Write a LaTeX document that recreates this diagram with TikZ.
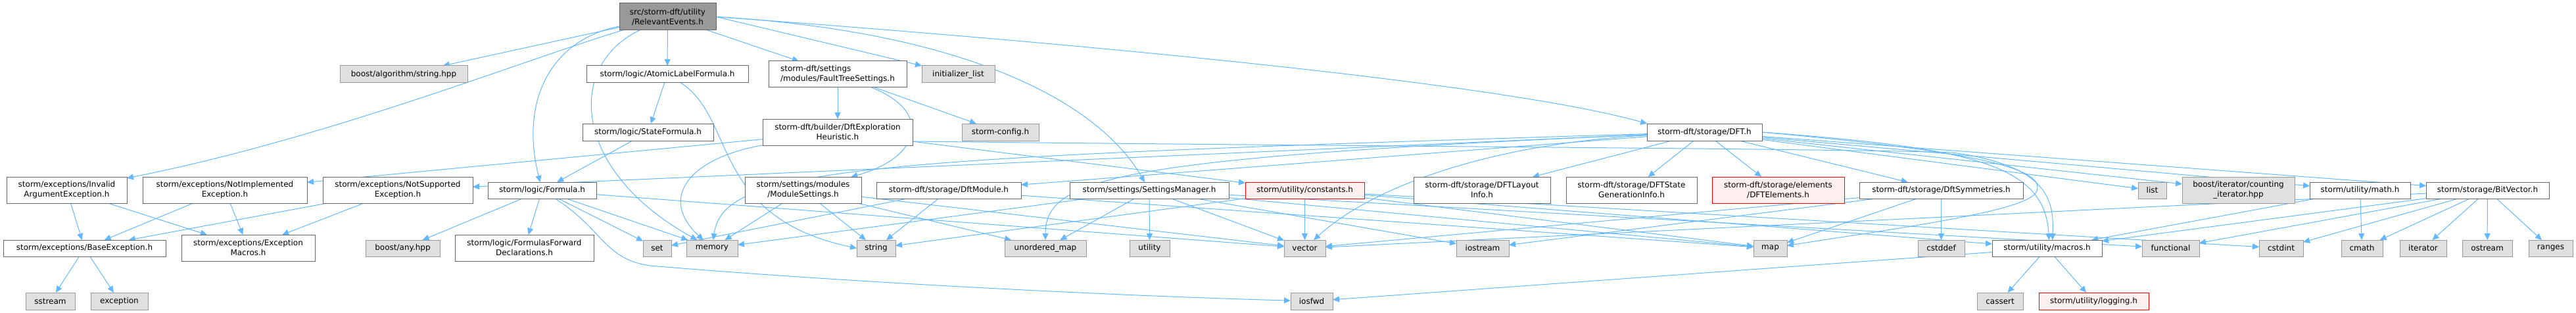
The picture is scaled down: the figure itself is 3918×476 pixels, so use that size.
\documentclass[tikz,border=0pt]{standalone}
\usepackage{fontspec}
\setmainfont{DejaVu Sans}
\usetikzlibrary{arrows.meta}
\pgfdeclarelayer{background}
\pgfsetlayers{background,main}
\definecolor{edgec}{HTML}{63B8FF}
\definecolor{nodeborder}{HTML}{666666}
\definecolor{extfill}{HTML}{E0E0E0}
\definecolor{extborder}{HTML}{999999}
\definecolor{rootfill}{HTML}{999999}
\definecolor{redfill}{HTML}{FFF0F0}
\begin{document}
\begin{tikzpicture}[x=1pt,y=-1pt,
  every node/.style={font=\fontsize{12}{15}\selectfont, align=center, inner sep=0pt, outer sep=0pt},
  file/.style={draw=nodeborder, fill=white, line width=1pt},
  ext/.style={draw=extborder, fill=extfill, line width=1pt},
  redfile/.style={draw=red, fill=redfill, line width=1pt},
  rootfile/.style={draw=nodeborder, fill=rootfill, line width=1pt},
  dep/.style={draw=edgec, line width=1pt, -{Triangle[length=10pt,width=9pt]}},
]
\useasboundingbox (0,0) rectangle (3918,476);
% row 1
\node[rootfile, minimum width=147pt, minimum height=41pt] (root) at (1015.5,25.5) {src/storm-dft/utility\\/RelevantEvents.h};
% row 2
\node[ext, minimum width=194pt, minimum height=26pt] (strhpp) at (614,113) {boost/algorithm/string.hpp};
\node[file, minimum width=246pt, minimum height=26pt] (atomic) at (1015,113) {storm/logic/AtomicLabelFormula.h};
\node[file, minimum width=210pt, minimum height=40pt, align=left] (fts) at (1274,113) {storm-dft/settings\\/modules/FaultTreeSettings.h};
\node[ext, minimum width=111pt, minimum height=26pt] (initlist) at (1457.5,113) {initializer\_list};
% row 3
\node[file, minimum width=199pt, minimum height=26pt] (stateformula) at (985.5,201) {storm/logic/StateFormula.h};
\node[file, minimum width=228pt, minimum height=40pt] (dfteh) at (1274,201) {storm-dft/builder/DftExploration\\Heuristic.h};
\node[ext, minimum width=117pt, minimum height=26pt] (config) at (1521.5,201) {storm-config.h};
\node[file, minimum width=175pt, minimum height=26pt] (dft) at (2592.5,201) {storm-dft/storage/DFT.h};
% row 4
\node[file, minimum width=183pt, minimum height=40pt] (invarg) at (101.5,289) {storm/exceptions/Invalid\\ArgumentException.h};
\node[file, minimum width=250pt, minimum height=40pt] (notimpl) at (342,289) {storm/exceptions/NotImplemented\\Exception.h};
\node[file, minimum width=228pt, minimum height=40pt] (notsupp) at (605,289) {storm/exceptions/NotSupported\\Exception.h};
\node[file, minimum width=165pt, minimum height=25pt] (formula) at (824.5,289.5) {storm/logic/Formula.h};
\node[file, minimum width=177pt, minimum height=40pt] (modset) at (1221.5,289) {storm/settings/modules\\/ModuleSettings.h};
\node[file, minimum width=220pt, minimum height=25pt] (dftmodule) at (1443,289.5) {storm-dft/storage/DftModule.h};
\node[file, minimum width=242pt, minimum height=25pt] (smgr) at (1748,289.5) {storm/settings/SettingsManager.h};
\node[redfile, minimum width=181pt, minimum height=25pt] (constants) at (1984.5,289.5) {storm/utility/constants.h};
\node[file, minimum width=208pt, minimum height=40pt] (layout) at (2254,289) {storm-dft/storage/DFTLayout\\Info.h};
\node[file, minimum width=199pt, minimum height=40pt] (stategen) at (2481.5,289) {storm-dft/storage/DFTState\\GenerationInfo.h};
\node[redfile, minimum width=201pt, minimum height=40pt] (elements) at (2704.5,289) {storm-dft/storage/elements\\/DFTElements.h};
\node[file, minimum width=249pt, minimum height=25pt] (dftsym) at (2952.5,289.5) {storm-dft/storage/DftSymmetries.h};
\node[ext, minimum width=43pt, minimum height=25pt] (list) at (3273.5,289.5) {list};
\node[ext, minimum width=171pt, minimum height=40pt] (counting) at (3404.5,289) {boost/iterator/counting\\\_iterator.hpp};
\node[file, minimum width=153pt, minimum height=25pt] (math) at (3589.5,289.5) {storm/utility/math.h};
\node[file, minimum width=187pt, minimum height=25pt] (bitvec) at (3783.5,289.5) {storm/storage/BitVector.h};
% row 5
\node[file, minimum width=247pt, minimum height=25pt] (base) at (128.5,377.5) {storm/exceptions/BaseException.h};
\node[file, minimum width=203pt, minimum height=40pt] (excmacros) at (377.5,377) {storm/exceptions/Exception\\Macros.h};
\node[ext, minimum width=113pt, minimum height=25pt] (anyhpp) at (612.5,377.5) {boost/any.hpp};
\node[file, minimum width=211pt, minimum height=40pt] (ffd) at (797.5,377) {storm/logic/FormulasForward\\Declarations.h};
\node[ext, minimum width=43pt, minimum height=25pt] (set) at (999.5,377.5) {set};
\node[ext, minimum width=78pt, minimum height=25pt] (memory) at (1083,377.5) {memory};
\node[ext, minimum width=59pt, minimum height=25pt] (string) at (1332.5,377.5) {string};
\node[ext, minimum width=124pt, minimum height=25pt] (umap) at (1590,377.5) {unordered\_map};
\node[ext, minimum width=61pt, minimum height=25pt] (utility) at (1748.5,377.5) {utility};
\node[ext, minimum width=63pt, minimum height=25pt] (vector) at (1984.5,377.5) {vector};
\node[ext, minimum width=80pt, minimum height=25pt] (iostream) at (2255,377.5) {iostream};
\node[ext, minimum width=51pt, minimum height=25pt] (map) at (2692.5,377.5) {map};
\node[ext, minimum width=71pt, minimum height=25pt] (cstddef) at (2952.5,377.5) {cstddef};
\node[file, minimum width=167pt, minimum height=25pt] (macros) at (3113.5,377.5) {storm/utility/macros.h};
\node[ext, minimum width=87pt, minimum height=25pt] (functional) at (3301.5,377.5) {functional};
\node[ext, minimum width=67pt, minimum height=25pt] (cstdint) at (3469.5,377.5) {cstdint};
\node[ext, minimum width=63pt, minimum height=25pt] (cmath) at (3592.5,377.5) {cmath};
\node[ext, minimum width=71pt, minimum height=25pt] (iterator) at (3685.5,377.5) {iterator};
\node[ext, minimum width=76pt, minimum height=25pt] (ostream) at (3783,377.5) {ostream};
\node[ext, minimum width=67pt, minimum height=25pt] (ranges) at (3879.5,377.5) {ranges};
% row 6
\node[ext, minimum width=75pt, minimum height=26pt] (sstream) at (76.5,458) {sstream};
\node[ext, minimum width=87pt, minimum height=26pt] (exception) at (181.5,458) {exception};
\node[ext, minimum width=64pt, minimum height=26pt] (iosfwd) at (1995,458) {iosfwd};
\node[ext, minimum width=70pt, minimum height=26pt] (cassert) at (3042,458) {cassert};
\node[redfile, minimum width=167pt, minimum height=26pt] (logging) at (3184.5,458) {storm/utility/logging.h};

\begin{pgfonlayer}{background}
% edges from root
\draw[dep] (root) -- (strhpp);
\draw[dep] (root) -- (atomic);
\draw[dep] (root) -- (fts);
\draw[dep] (root.east) -- (initlist.north west);
\draw[dep] (root.east) .. controls (1700,70) and (2300,130) .. (dft.north west);
\draw[dep] (root) .. controls (800,90) and (500,210) .. (invarg);
\draw[dep] (root) .. controls (840,60) and (790,150) .. (formula);
\draw[dep] (root) .. controls (860,100) and (870,260) .. (memory);
\draw[dep] (root.east) .. controls (1500,50) and (1680,170) .. (smgr);
% atomic, stateformula
\draw[dep] (atomic) -- (stateformula);
\draw[dep] (atomic) .. controls (1120,180) and (1080,330) .. (string.west);
\draw[dep] (stateformula) -- (formula);
% fts
\draw[dep] (fts) -- (config);
\draw[dep] (fts) -- (dfteh);
\draw[dep] (fts) .. controls (1420,170) and (1400,240) .. (modset);
% dfteh
\draw[dep] (dfteh) .. controls (1050,240) and (1000,300) .. (memory);
\draw[dep] (dfteh) -- (notimpl);
\draw[dep] (dfteh) -- (constants);
\draw[dep] ([yshift=-14pt]dfteh.east) .. controls (2000,222) and (2800,226) .. (2970,232)
   .. controls (3110,252) and (3125,300) .. ([xshift=8pt]macros.north);
% exceptions
\draw[dep] (invarg) -- (base);
\draw[dep] (invarg) -- (excmacros);
\draw[dep] (notimpl) -- (base);
\draw[dep] (notimpl) -- (excmacros);
\draw[dep] (notsupp) -- (base);
\draw[dep] (notsupp) -- (excmacros);
\draw[dep] (base) -- (sstream);
\draw[dep] (base) -- (exception);
% formula
\draw[dep] (formula) -- (anyhpp);
\draw[dep] (formula) -- (ffd);
\draw[dep] (formula) -- (set);
\draw[dep] (formula) -- (memory);
\draw[dep] (formula) -- (vector);
\draw[dep] (formula) .. controls (920,350) and (920,400) .. (1000,405)
   .. controls (1300,430) and (1700,450) .. (iosfwd);
% modset
\draw[dep] (modset) -- (memory);
\draw[dep] (modset) -- (string);
\draw[dep] (modset) -- (umap);
\draw[dep] (modset) -- (vector);
% dftmodule
\draw[dep] (dftmodule) -- (set);
\draw[dep] (dftmodule) -- (string);
\draw[dep] (dftmodule) -- (map);
% smgr
\draw[dep] (smgr) -- (memory);
\draw[dep] (smgr) -- (utility);
\draw[dep] (smgr) -- (vector);
\draw[dep] (smgr) -- (iostream);
\draw[dep] (smgr) -- (map);
\draw[dep] (smgr) -- (functional);
\draw[dep] (smgr) -- (umap);
% constants
\draw[dep] (constants) -- (vector);
\draw[dep] (constants) -- (string);
\draw[dep] (constants) -- (map);
\draw[dep] (constants) -- (cstdint);
\draw[dep] (constants) -- (macros);
% dft
\draw[dep] (dft) -- (notsupp);
\draw[dep] (dft) -- (dftmodule);
\draw[dep] (dft) .. controls (1300,240) and (1100,255) .. (memory);
\draw[dep] (dft) .. controls (1700,240) and (1590,270) .. (umap);
\draw[dep] (dft) .. controls (2250,220) and (2080,290) .. (vector);
\draw[dep] (dft) -- (layout);
\draw[dep] (dft) -- (stategen);
\draw[dep] (dft) -- (elements);
\draw[dep] (dft) -- (dftsym);
\draw[dep] (dft) -- (list);
\draw[dep] (dft) -- (counting);
\draw[dep] (dft) -- (math);
\draw[dep] (dft) -- (bitvec);
\draw[dep] (dft.east) .. controls (3000,225) and (3110,250) .. ([xshift=3pt]macros.north);
\draw[dep] (dft.east) .. controls (3000,230) and (3110,255) .. (3098,290)
   .. controls (3090,320) and (2900,345) .. (map);
% dftsym
\draw[dep] (dftsym) -- (map);
\draw[dep] (dftsym) -- (cstddef);
\draw[dep] (dftsym) -- (vector);
\draw[dep] (dftsym) -- (iostream);
% macros
\draw[dep] (macros) -- (cassert);
\draw[dep] (macros) -- (logging);
\draw[dep] (macros) -- (iosfwd);
% math
\draw[dep] (math) -- (cmath);
\draw[dep] (math) -- (macros);
% bitvec
\draw[dep] (bitvec) -- (cmath);
\draw[dep] (bitvec) -- (iterator);
\draw[dep] (bitvec) -- (ostream);
\draw[dep] (bitvec) -- (ranges);
\draw[dep] (bitvec) -- (cstdint);
\draw[dep] (bitvec) -- (functional);
\draw[dep] (bitvec) -- (vector);
\draw[dep] (bitvec) -- (macros);
\end{pgfonlayer}
\end{tikzpicture}
\end{document}
